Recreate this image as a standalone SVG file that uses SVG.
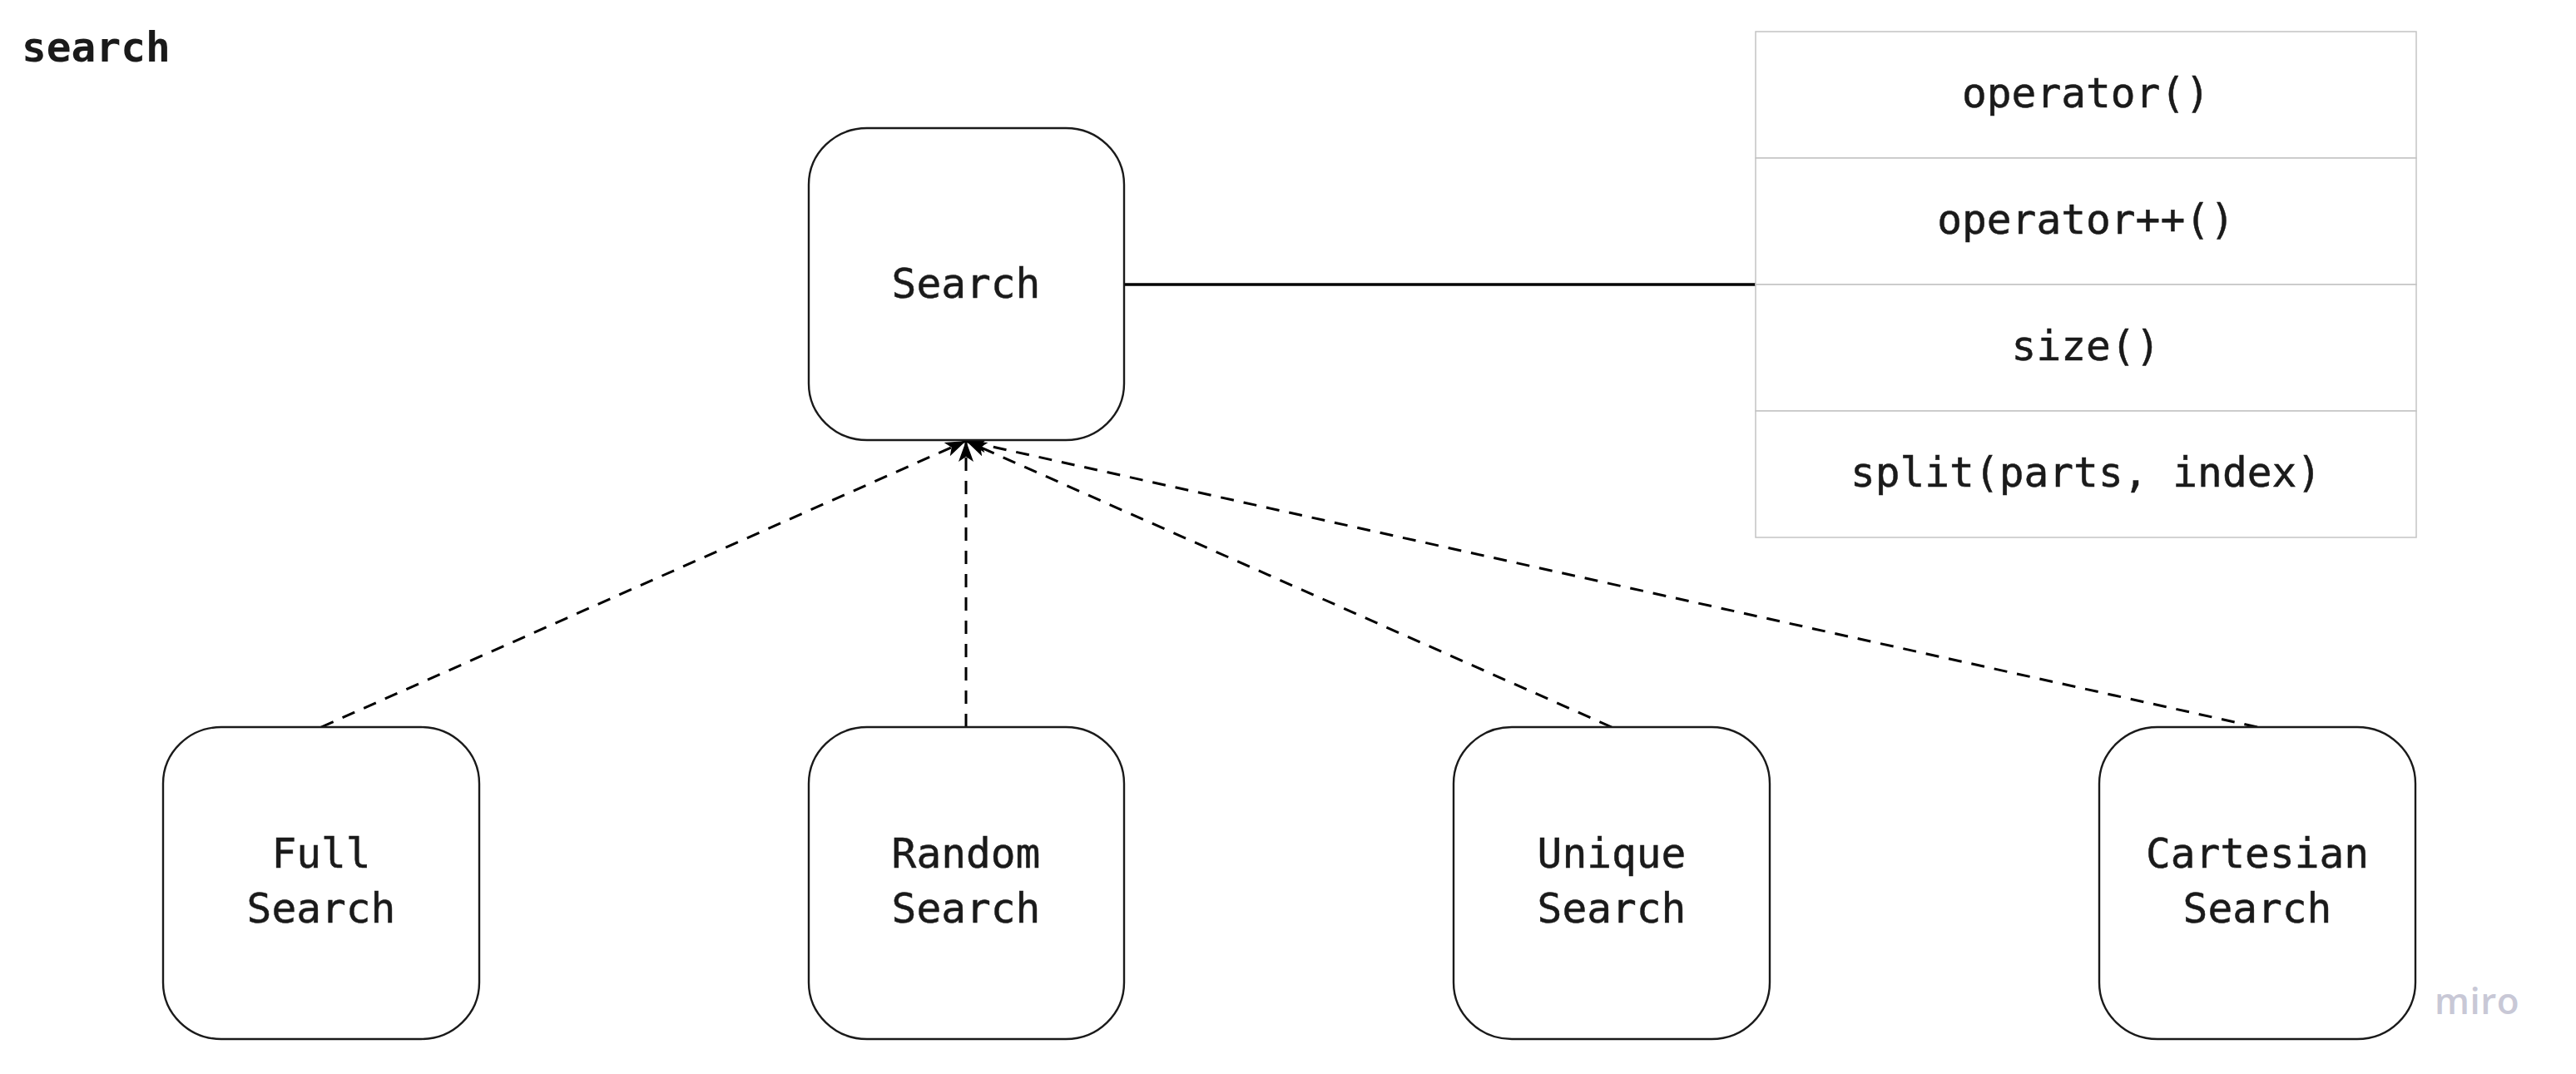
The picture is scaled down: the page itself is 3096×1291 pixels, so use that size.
<svg xmlns="http://www.w3.org/2000/svg" width="3096" height="1291" viewBox="0 0 3096 1291">
<style>
.node{fill:#ffffff;stroke:#1a1a1a;stroke-width:2.4}
.lbl{font-family:"DejaVu Sans Mono","Liberation Mono",monospace;font-size:49.5px;fill:#1a1a1a;stroke:#1a1a1a;stroke-width:0.5;text-anchor:middle}
.cell{fill:#ffffff;stroke:#c4c4c4;stroke-width:1.5}
.dash{fill:none;stroke:#000000;stroke-width:3;stroke-dasharray:16 12}
.solid{fill:none;stroke:#000000;stroke-width:3.5}
</style>
<defs>
<marker id="arr" markerUnits="userSpaceOnUse" markerWidth="28" markerHeight="20" refX="25" refY="9" orient="auto">
<path d="M0,0 L25,9 L0,18 L6,9 z" fill="#000000"/>
</marker>
</defs>
<rect width="3096" height="1291" fill="#ffffff"/>
<text x="26" y="74" font-family="DejaVu Sans Mono,Liberation Mono,monospace" font-size="49.5" font-weight="bold" fill="#1a1a1a">search</text>

<g id="connectors">
<line class="solid" x1="1351" y1="342" x2="2110" y2="342"/>
<line class="dash" x1="386" y1="874" x2="1161" y2="530" marker-end="url(#arr)"/>
<line class="dash" x1="1161" y1="874" x2="1161" y2="530" marker-end="url(#arr)"/>
<line class="dash" x1="1937" y1="874" x2="1161" y2="530" marker-end="url(#arr)"/>
<line class="dash" x1="2713" y1="874" x2="1161" y2="530" marker-end="url(#arr)"/>
</g>

<g id="node-search">
<rect class="node" x="972" y="154" width="379" height="375" rx="70" ry="68"/>
<text class="lbl" x="1161" y="358">Search</text>
</g>

<g id="node-methods">
<rect class="cell" x="2110" y="38" width="794" height="152"/>
<rect class="cell" x="2110" y="190" width="794" height="152"/>
<rect class="cell" x="2110" y="342" width="794" height="152"/>
<rect class="cell" x="2110" y="494" width="794" height="152"/>
<text class="lbl" x="2507" y="129">operator()</text>
<text class="lbl" x="2507" y="281">operator++()</text>
<text class="lbl" x="2507" y="433">size()</text>
<text class="lbl" x="2507" y="585">split(parts, index)</text>
</g>

<g id="node-full">
<rect class="node" x="196" y="874" width="380" height="375" rx="70" ry="68"/>
<text class="lbl" x="386" y="1043">Full</text>
<text class="lbl" x="386" y="1109">Search</text>
</g>

<g id="node-random">
<rect class="node" x="972" y="874" width="379" height="375" rx="70" ry="68"/>
<text class="lbl" x="1161" y="1043">Random</text>
<text class="lbl" x="1161" y="1109">Search</text>
</g>

<g id="node-unique">
<rect class="node" x="1747" y="874" width="380" height="375" rx="70" ry="68"/>
<text class="lbl" x="1937" y="1043">Unique</text>
<text class="lbl" x="1937" y="1109">Search</text>
</g>

<g id="node-cartesian">
<rect class="node" x="2523" y="874" width="380" height="375" rx="70" ry="68"/>
<text class="lbl" x="2713" y="1043">Cartesian</text>
<text class="lbl" x="2713" y="1109">Search</text>
</g>

<text x="2926" y="1219" font-family="Open Sans,Noto Sans,sans-serif" font-size="44" font-weight="600" letter-spacing="0.5" fill="#c8c8d6">miro</text>
</svg>
